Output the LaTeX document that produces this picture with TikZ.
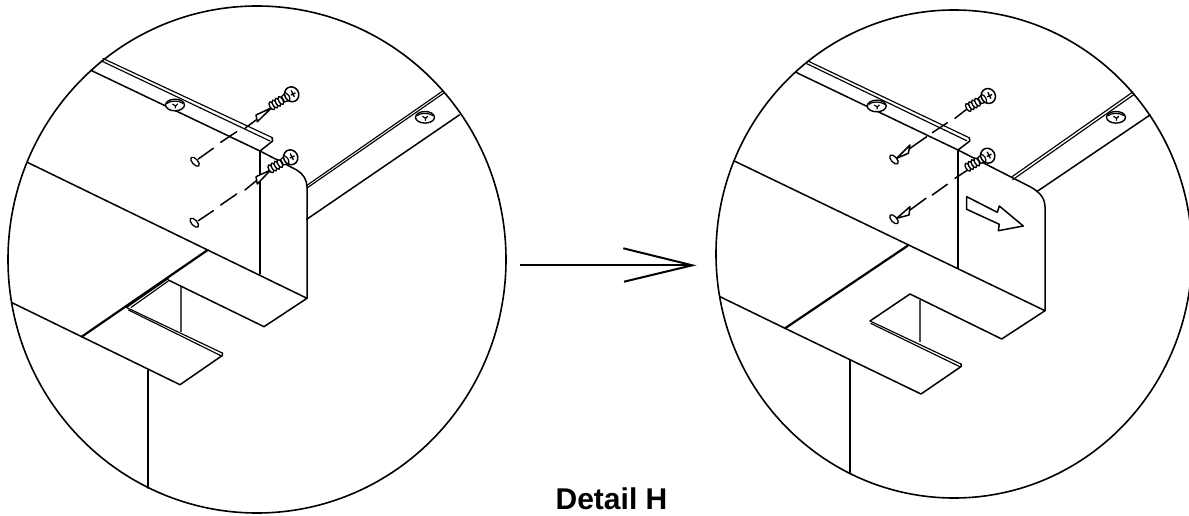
\documentclass[tikz,border=0pt]{standalone}
\usepackage{fontspec}
\setmainfont{Liberation Sans}
\tikzset{
  ln/.style={line width=1.5pt,line join=round,line cap=round},
  thin line/.style={line width=1.15pt,line join=round,line cap=round},
  heavy/.style={line width=2.2pt,line cap=round},
  rim/.style={line width=1.6pt},
  inner post/.style={line width=1.6pt,black!70},
  dash seg/.style={line width=1.5pt,line cap=round},
  pin end/.style={line width=1.3pt,fill=white},
  screw/.pic={
    \foreach \t in {-23,-19.5,-16,-12.5}{
      \draw[line width=1.3pt,fill=white] (\t,0) ellipse [x radius=2.1,y radius=4.4];
    }
    \draw[line width=1.3pt,fill=white] (-10,-3) -- (-4,-4.5) -- (-4,4.5) -- (-10,3) -- cycle;
    \draw[line width=1.5pt,fill=white] (0,0) ellipse [x radius=7,y radius=7.6];
    \draw[line width=1.2pt] (-5,-5) .. controls (-2.5,-1) and (-2.5,1) .. (-5,5);
    \draw[line width=1.3pt] (1.5,-3.6) -- (1,3.6) (-1.2,0.3) -- (4,0.6);
  },
  washer/.pic={
    \draw[line width=1.4pt,fill=white] (0,0) ellipse [x radius=9.5,y radius=5.8];
    \draw[line width=1.2pt] (-8,-1.5) .. controls (-5,-4.5) and (3,-5) .. (8.5,-1.5);
    \draw[line width=1.2pt] (-2.5,-1) -- (0.6,1) -- (2.8,-1.2) (0.6,1) -- (0.3,3.4);
  }
}
\begin{document}
\begin{tikzpicture}[x=1pt,y=-1pt]
\useasboundingbox (0,0) rectangle (1189,516);
\clip (0,0) rectangle (1189,516);

% ---------- left detail ----------
\draw[rim] (257,259.5) ellipse [x radius=249,y radius=253.5];
% upper flange
\draw[thin line] (103,58.5) -- (272,137.5);
\draw[thin line] (101.5,61) -- (270,141);
\draw[ln] (91.7,70.7) -- (260,151) -- (272.7,141) -- (272,137.5);
\draw[ln] (260,151) -- (296.7,170) .. controls (303,173.5) and (307,180) .. (307,187) -- (307,298);
\draw[ln] (260,151) -- (260,274);
% right flange
\draw[thin line] (306.7,185.5) -- (442.7,91);
\draw[thin line] (307,188) -- (444,93);
\draw[ln] (306.7,219.3) -- (459.3,115);
% top panel edge and tongue
\draw[ln] (27.3,162.3) -- (307,298.3) -- (264,326.7) -- (168.3,280);
\draw[heavy] (207.7,250) -- (81.7,336.7);
\draw[ln] (12,302.7) -- (81.7,336.7) -- (180,384.7) -- (222.3,355.5) -- (222.3,353);
\draw[thin line] (168.3,278.5) -- (126.5,307.5) -- (222.3,353);
\draw[thin line] (168.3,281) -- (131,307.5);
\draw[thin line] (128.5,310) -- (220.5,355.5);
\draw[inner post] (181,286.7) -- (181,331.7);
\draw[ln] (148,370) -- (148,488);
% fasteners
\pic at (175,105) {washer};
\pic at (425,117.3) {washer};
\draw[pin end] (195,161.7) ellipse [x radius=5.6,y radius=2.8,rotate=-48];
\draw[pin end] (194.3,222.7) ellipse [x radius=5.6,y radius=2.8,rotate=-48];
\draw[dash seg] (198.3,159) -- (213.3,148.3) (220.7,142.3) -- (236.7,131.7) (245,128.3) -- (256,120);
\draw[dash seg] (198.3,220.7) -- (213.3,210.7) (220.7,205) -- (236.7,194) (245,190) -- (256,181);
\draw[ln,fill=white] (271.7,107.7) -- (256,115) -- (257.3,121.7) -- cycle;
\draw[ln,fill=white] (270.7,170) -- (256,176.7) -- (257.3,184) -- cycle;
\pic[rotate=30] at (291.7,94.3) {screw};
\pic[rotate=30] at (290.7,157.3) {screw};

% ---------- right detail ----------
\draw[rim] (954,254) ellipse [x radius=238,y radius=244];
\draw[thin line] (808.3,61.2) -- (969.3,137.8);
\draw[thin line] (806.8,63.7) -- (966.7,140.7);
\draw[ln] (796.7,72.7) -- (958,150) -- (969.8,141) -- (969.3,137.8);
\draw[ln] (958,150) -- (1026.7,185) .. controls (1037,190) and (1045,196) .. (1045,207) -- (1045,310.7);
\draw[ln] (958,150) -- (958,268.3);
\draw[thin line] (1011.2,177.3) -- (1132.8,92);
\draw[thin line] (1012.7,179.7) -- (1134.3,94.3);
\draw[ln] (1036.7,191.7) -- (1150,115);
\draw[ln] (734.3,161) -- (1045,310.7) -- (1001.7,339) -- (910,294) -- (870,321);
\draw[heavy] (907.7,245.7) -- (785,328.3);
\draw[ln] (720,296.7) -- (785,328.3) -- (921,394) -- (961.2,366.5) -- (961,364);
\draw[thin line] (870,321) -- (961,364);
\draw[thin line] (871,323.5) -- (960,366.8);
\draw[inner post] (920,300) -- (920,341.7);
\draw[ln] (850,360) -- (850,472.7);
\pic at (876.7,106) {washer};
\pic at (1116,117.3) {washer};
\draw[dash seg] (970,106.7) -- (955,118.3) (947.3,122.7) -- (932.3,132.7) (926.7,136.7) -- (910,148.3);
\draw[dash seg] (967.7,170) -- (955,178.3) (947.3,184.3) -- (932.3,195) (926,198.3) -- (910,210);
\draw[ln,fill=white] (910,145) -- (908.3,153.3) -- (896.7,158.3) -- cycle;
\draw[ln,fill=white] (910,206.7) -- (909,215) -- (896.7,218.3) -- cycle;
\draw[pin end] (894,159.5) ellipse [x radius=5.6,y radius=2.8,rotate=-48];
\draw[pin end] (894,219.3) ellipse [x radius=5.6,y radius=2.8,rotate=-48];
\pic[rotate=30] at (988.3,96) {screw};
\pic[rotate=30] at (987.7,155.7) {screw};
% slide direction
\draw[ln] (966.7,196.7) -- (997.3,212.3) -- (999.3,206) -- (1023.3,226) -- (998.3,230.7) -- (999.3,224.3) -- (966.7,209.3) -- cycle;

% ---------- step arrow ----------
\coordinate (from) at (520,265.3);
\coordinate (to) at (692.3,265.3);
\coordinate (barbA) at (623.3,248.3);
\coordinate (barbB) at (624,281.7);
\draw[line width=2pt] (from) -- (to);
\draw[line width=2pt,line join=miter] (barbA) -- (to) -- (barbB);

\node[anchor=base,inner sep=0pt,font=\bfseries\fontsize{30}{32}\selectfont] (title) at (611.5,509.5) {Detail H};
\end{tikzpicture}
\end{document}
